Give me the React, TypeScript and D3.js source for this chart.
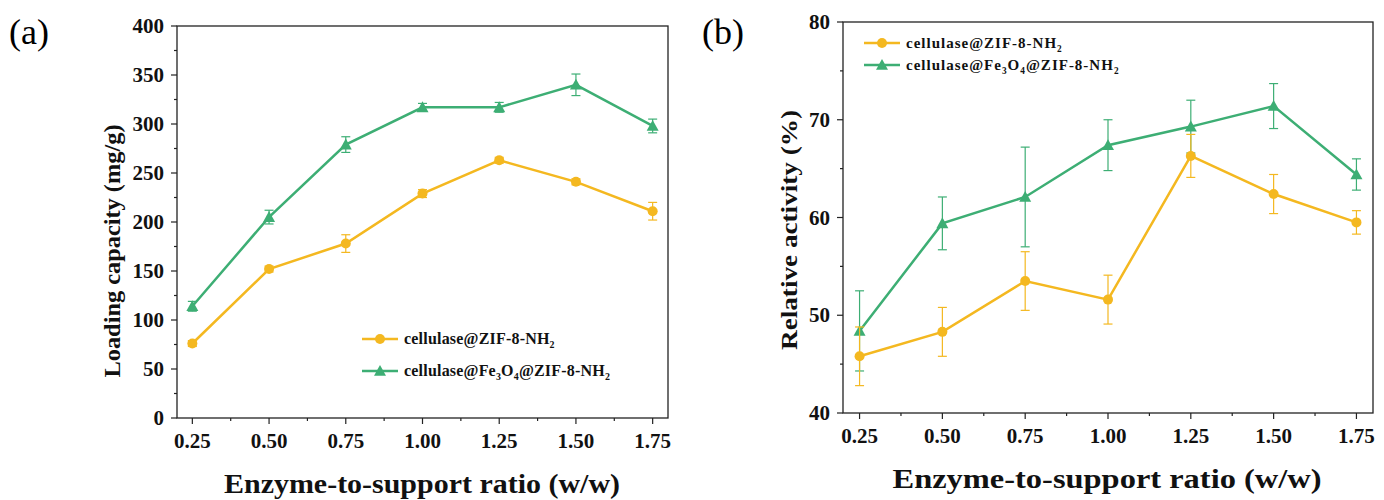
import React from "react";
import * as d3 from "d3";

const ratios = [0.25, 0.5, 0.75, 1.0, 1.25, 1.5, 1.75];
const xTickLabels = ["0.25", "0.50", "0.75", "1.00", "1.25", "1.50", "1.75"];

// Panel (a): loading capacity (mg/g)
const loadZif = [76, 152, 178, 229, 263, 241, 211];
const loadZifErr = [3, 3, 9, 4, 3, 3, 9];
const loadFe = [114, 205, 279, 317, 317, 340, 298];
const loadFeErr = [5, 7, 8, 4, 5, 11, 7];
const loadTicks = [0, 50, 100, 150, 200, 250, 300, 350, 400];

// Panel (b): relative activity (%)
const actZif = [45.8, 48.3, 53.5, 51.6, 66.3, 62.4, 59.5];
const actZifErr = [3.0, 2.5, 3.0, 2.5, 2.2, 2.0, 1.2];
const actFe = [48.4, 59.4, 62.1, 67.4, 69.3, 71.4, 64.4];
const actFeErr = [4.1, 2.7, 5.1, 2.6, 2.7, 2.3, 1.6];
const actTicks = [40, 50, 60, 70, 80];

const YELLOW = "#F4B820";
const GREEN = "#3DAE74";
const FONT = "'Liberation Serif', 'Times New Roman', serif";

type Series = { vals: number[]; errs: number[]; color: string; marker: "circle" | "triangle" };

function Marker({ x, y, type, color }: { x: number; y: number; type: string; color: string }) {
  if (type === "circle") return <circle cx={x} cy={y} r={5} fill={color} />;
  const s = 6;
  return <path d={`M${x},${y - s}L${x + s},${y + s * 0.8}L${x - s},${y + s * 0.8}Z`} fill={color} />;
}

function Legend({ x, y, gap, fontSize, spacing }: { x: number; y: number; gap: number; fontSize: number; spacing: number }) {
  const items = [
    { color: YELLOW, type: "circle", parts: [["cellulase@ZIF-8-NH", false], ["2", true]] },
    { color: GREEN, type: "triangle", parts: [["cellulase@Fe", false], ["3", true], ["O", false], ["4", true], ["@ZIF-8-NH", false], ["2", true]] },
  ];
  return (
    <g>
      {items.map((it, i) => {
        const yy = y + i * gap;
        return (
          <g key={i}>
            <line x1={x} x2={x + 36} y1={yy} y2={yy} stroke={it.color} strokeWidth={2.5} />
            <Marker x={x + 18} y={yy} type={it.type} color={it.color} />
            <text x={x + 42} y={yy + 5} fontFamily={FONT} fontWeight="bold" fontSize={fontSize} letterSpacing={spacing} fill="#111">
              {it.parts.map((p, j) =>
                p[1] ? (
                  <tspan key={j} fontSize={fontSize * 0.62} dy={4} dx={0}>
                    {p[0] as string}
                  </tspan>
                ) : (
                  <tspan key={j} dy={j > 0 ? -4 : 0}>
                    {p[0] as string}
                  </tspan>
                )
              )}
            </text>
          </g>
        );
      })}
    </g>
  );
}

function Panel(props: {
  left: number; right: number; top: number; bottom: number;
  yDomain: [number, number]; yTicks: number[]; yMinorStep: number;
  series: Series[]; yTitle: string; yTitleX: number; yTitleY: number; yTitleLen: number;
  xTitleX: number; xTitleY: number; xTitleLen: number; xLabelY: number;
  tag: string; tagX: number; legend: React.ReactNode;
}) {
  const { left, right, top, bottom } = props;
  const x = d3.scaleLinear().domain([0.2, 1.8]).range([left, right]);
  const y = d3.scaleLinear().domain(props.yDomain).range([bottom, top]);
  const minorY = d3.range(props.yDomain[0], props.yDomain[1] + 1e-9, props.yMinorStep).filter((v) => !props.yTicks.includes(v));
  const minorX = d3.range(0.375, 1.8, 0.25);
  const line = d3.line<number>().x((_, i) => x(ratios[i])).y((d) => y(d));
  const ticks = 6;
  return (
    <g>
      <text x={props.tagX} y={44} fontFamily={FONT} fontSize={36}>{props.tag}</text>
      {props.series.map((s, si) => (
        <g key={si}>
          <path d={line(s.vals) || ""} fill="none" stroke={s.color} strokeWidth={2.5} />
          {s.vals.map((v, i) => {
            const cx = x(ratios[i]);
            const y1 = y(v + s.errs[i]);
            const y2 = y(v - s.errs[i]);
            return (
              <g key={i} stroke={s.color} strokeWidth={1.2}>
                <line x1={cx} x2={cx} y1={y1} y2={y2} />
                <line x1={cx - 4.5} x2={cx + 4.5} y1={y1} y2={y1} />
                <line x1={cx - 4.5} x2={cx + 4.5} y1={y2} y2={y2} />
              </g>
            );
          })}
          {s.vals.map((v, i) => (
            <Marker key={"m" + i} x={x(ratios[i])} y={y(v)} type={s.marker} color={s.color} />
          ))}
        </g>
      ))}
      <rect x={left} y={top} width={right - left} height={bottom - top} fill="none" stroke="#222" strokeWidth={1.3} />
      {props.yTicks.map((t) => (
        <g key={t}>
          <line x1={left - ticks} x2={left} y1={y(t)} y2={y(t)} stroke="#222" strokeWidth={1.2} />
          <text x={left - 13} y={y(t) + 7} textAnchor="end" fontFamily={FONT} fontWeight="bold" fontSize={21} fill="#111">
            {t}
          </text>
        </g>
      ))}
      {minorY.map((t) => (
        <line key={"my" + t} x1={left - 3} x2={left} y1={y(t)} y2={y(t)} stroke="#222" strokeWidth={1.2} />
      ))}
      {ratios.map((r, i) => (
        <g key={r}>
          <line x1={x(r)} x2={x(r)} y1={bottom} y2={bottom + ticks} stroke="#222" strokeWidth={1.2} />
          <text x={x(r)} y={props.xLabelY} textAnchor="middle" fontFamily={FONT} fontWeight="bold" fontSize={21} fill="#111">
            {xTickLabels[i]}
          </text>
        </g>
      ))}
      {minorX.map((r) => (
        <line key={"mx" + r} x1={x(r)} x2={x(r)} y1={bottom} y2={bottom + 3} stroke="#222" strokeWidth={1.2} />
      ))}
      <text
        transform={`translate(${props.yTitleX},${props.yTitleY}) rotate(-90)`}
        textAnchor="middle"
        fontFamily={FONT}
        fontWeight="bold"
        fontSize={24}
        fill="#111"
        textLength={props.yTitleLen}
        lengthAdjust="spacingAndGlyphs"
      >
        {props.yTitle}
      </text>
      <text
        x={props.xTitleX}
        y={props.xTitleY}
        textAnchor="middle"
        fontFamily={FONT}
        fontWeight="bold"
        fontSize={27}
        fill="#111"
        textLength={props.xTitleLen}
        lengthAdjust="spacingAndGlyphs"
      >
        Enzyme-to-support ratio (w/w)
      </text>
      {props.legend}
    </g>
  );
}

export default function App() {
  return (
    <svg width={1384} height={500} style={{ position: "absolute", left: 0, top: 0, background: "#fff" }}>
      <Panel
        left={177} right={668} top={26} bottom={418}
        yDomain={[0, 400]} yTicks={loadTicks} yMinorStep={25}
        series={[
          { vals: loadFe, errs: loadFeErr, color: GREEN, marker: "triangle" },
          { vals: loadZif, errs: loadZifErr, color: YELLOW, marker: "circle" },
        ]}
        yTitle="Loading capacity (mg/g)" yTitleX={120} yTitleY={251} yTitleLen={253}
        xTitleX={422} xTitleY={493} xTitleLen={396} xLabelY={448}
        tag="(a)" tagX={9}
        legend={<Legend x={362} y={339} gap={32} fontSize={16} spacing={0.2} />}
      />
      <Panel
        left={843} right={1373} top={22} bottom={413}
        yDomain={[40, 80]} yTicks={actTicks} yMinorStep={5}
        series={[
          { vals: actFe, errs: actFeErr, color: GREEN, marker: "triangle" },
          { vals: actZif, errs: actZifErr, color: YELLOW, marker: "circle" },
        ]}
        yTitle="Relative activity (%)" yTitleX={797} yTitleY={230} yTitleLen={240}
        xTitleX={1107} xTitleY={488} xTitleLen={429} xLabelY={443}
        tag="(b)" tagX={702}
        legend={<Legend x={864} y={43} gap={22} fontSize={15} spacing={1} />}
      />
    </svg>
  );
}
